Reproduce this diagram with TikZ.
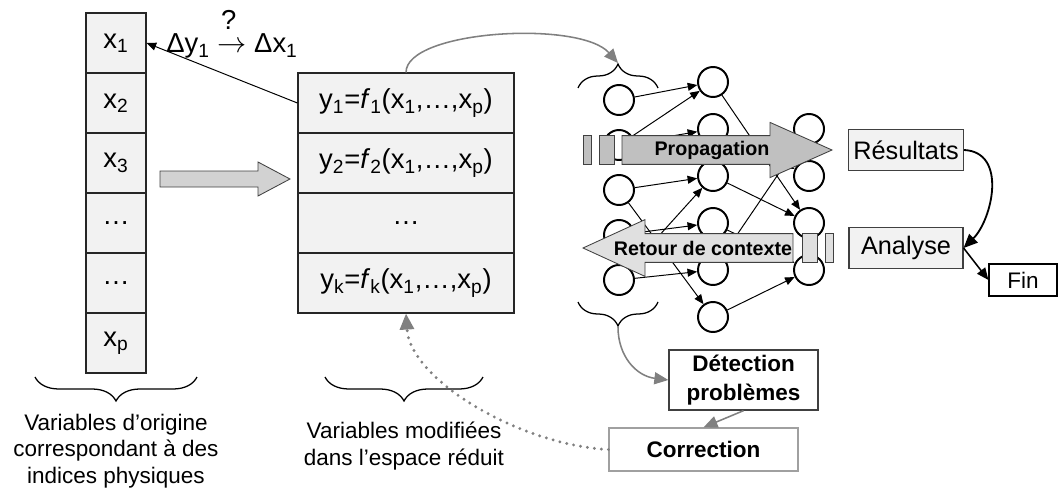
\documentclass[tikz,border=0pt]{standalone}
\usepackage{fontspec}
\setmainfont{Liberation Sans}
\definecolor{cellgray}{RGB}{242,242,242}
\definecolor{propgray}{RGB}{192,192,192}
\definecolor{retgray}{RGB}{224,224,224}
\definecolor{shiftgray}{RGB}{210,210,210}
\definecolor{edgegray}{RGB}{64,64,64}
\definecolor{curvegray}{RGB}{128,128,128}
\definecolor{corrgray}{RGB}{160,160,160}
\usetikzlibrary{arrows.meta,positioning,decorations.pathreplacing}

\begin{document}
\begin{tikzpicture}[
  cell/.style={draw=black!85,line width=0.8pt,fill=cellgray,minimum width=1.5cm,minimum height=1.5cm,inner sep=0pt,font=\fontsize{19.5}{23}\selectfont},
  row/.style={cell,minimum width=5.4cm},
  neuron/.style={circle,draw,line width=1.4pt,fill=white,minimum size=0.75cm,inner sep=0pt},
  link/.style={-{Triangle[length=2.4mm,width=2mm]},line width=0.7pt},
  result/.style={draw=edgegray,line width=0.8pt,fill=cellgray,minimum width=2.85cm,minimum height=1.02cm,font=\fontsize{18}{21}\selectfont},
  blockarrow/.style={draw=edgegray,line width=0.6pt},
  brc/.style={decorate,decoration={brace,amplitude=0.6cm},line width=0.9pt},
  grayarr/.style={curvegray,line width=1.1pt,-{Triangle[length=3.5mm,width=3mm]}},
  caption/.style={align=center,font=\fontsize{16}{18.9}\selectfont},
  arrowtext/.style={font=\fontsize{14}{17}\selectfont\bfseries}]
  \useasboundingbox (0,0) rectangle (26.45,12.2);
  % Original variables
  \node[cell] (x1) at (2.9,11.125) {x\textsubscript{1}};
  \node[cell] (x2) at (2.9,9.625) {x\textsubscript{2}};
  \node[cell] (x3) at (2.9,8.125) {x\textsubscript{3}};
  \node[cell] (x4) at (2.9,6.625) {…};
  \node[cell] (x5) at (2.9,5.125) {…};
  \node[cell] (xp) at (2.9,3.625) {x\textsubscript{p}};
  % Reduced variables
  \node[row] (y1) at (10.15,9.625) {y\textsubscript{1}=\textit{f}\textsubscript{1}(x\textsubscript{1},…,x\textsubscript{p})};
  \node[row] (y2) at (10.15,8.125) {y\textsubscript{2}=\textit{f}\textsubscript{2}(x\textsubscript{1},…,x\textsubscript{p})};
  \node[row] (y3) at (10.15,6.625) {…};
  \node[row] (yk) at (10.15,5.125) {y\textsubscript{k}=\textit{f}\textsubscript{k}(x\textsubscript{1},…,x\textsubscript{p})};
  % Inverse question
  \node[anchor=base,inner sep=0pt,font=\fontsize{19.5}{23}\selectfont] (dlabel) at (5.8,10.875) {Δy\textsubscript{1} $\rightarrow$ Δx\textsubscript{1}};
  \node[anchor=base,inner sep=0pt,font=\fontsize{19.5}{23}\selectfont] (qmark) at (5.72,11.45) {?};
  \draw[link] (y1.west) -- (x1.east);
  % Transformation arrow
  \draw[blockarrow,fill=shiftgray] (4.0,7.925) -- (6.45,7.925) -- (6.45,8.15) -- (7.25,7.725) -- (6.45,7.3) -- (6.45,7.525) -- (4.0,7.525) -- cycle;
  % Network
  \node[neuron] (n1) at (15.475,9.7) {};
  \node[neuron] (n2) at (15.475,8.575) {};
  \node[neuron] (n3) at (15.475,7.45) {};
  \node[neuron] (n4) at (15.475,6.325) {};
  \node[neuron] (n5) at (15.475,5.2) {};
  \node[neuron] (h1) at (17.825,10.15) {};
  \node[neuron] (h2) at (17.825,8.975) {};
  \node[neuron] (h3) at (17.825,7.8) {};
  \node[neuron] (h4) at (17.825,6.625) {};
  \node[neuron] (h5) at (17.825,5.45) {};
  \node[neuron] (h6) at (17.825,4.275) {};
  \node[neuron] (o1) at (20.225,8.975) {};
  \node[neuron] (o2) at (20.225,7.8) {};
  \node[neuron] (o3) at (20.225,6.625) {};
  \node[neuron] (o4) at (20.225,5.45) {};
  \draw[link] (n1) -- (h1);
  \draw[link] (n2) -- (h1);
  \draw[link] (n2) -- (h2);
  \draw[link] (n3) -- (h3);
  \draw[link] (n3) -- (h6);
  \draw[link] (n4) -- (h4);
  \draw[link] (n5) -- (h3);
  \draw[link] (n5) -- (h5);
  \draw[link] (h1) -- (o3);
  \draw[link] (h2) -- (o2);
  \draw[link] (h3) -- (o3);
  \draw[link] (h4) -- (o4);
  \draw[link] (h5) -- (o1);
  \draw[link] (h6) -- (o4);
  % Propagation
  \draw[blockarrow,fill=propgray] (14.575,8.81) rectangle (14.775,8.09);
  \draw[blockarrow,fill=propgray] (14.975,8.81) rectangle (15.35,8.09);
  \draw[blockarrow,fill=propgray] (15.55,8.81) -- (19.25,8.81) -- (19.25,9.14) -- (20.8,8.45) -- (19.25,7.76) -- (19.25,8.09) -- (15.55,8.09) -- cycle;
  \node[arrowtext] (prop) at (17.8,8.45) {Propagation};
  % Retour de contexte
  \draw[blockarrow,fill=retgray] (19.825,6.36) -- (16.125,6.36) -- (16.125,6.71) -- (14.575,6.0) -- (16.125,5.29) -- (16.125,5.64) -- (19.825,5.64) -- cycle;
  \draw[blockarrow,fill=retgray] (20.05,6.36) rectangle (20.425,5.64);
  \draw[blockarrow,fill=retgray] (20.625,6.36) rectangle (20.825,5.64);
  \node[arrowtext] (ret) at (17.575,6.0) {Retour de contexte};
  % Braces
  \draw[brc] (14.45,10.0) -- (16.45,10.0);
  \coordinate (topbr) at (15.45,10.625);
  \draw[brc] (16.45,4.65) -- (14.45,4.65);
  \coordinate (botbr) at (15.45,4.025);
  \draw[brc] (4.925,2.775) -- (0.875,2.775);
  \draw[brc] (12.075,2.775) -- (8.125,2.775);
  % Captions
  \node[caption] (orig) at (2.9,0.925) {Variables d’origine\\correspondant à des\\indices physiques};
  \node[caption] (modif) at (10.1,1.05) {Variables modifiées\\dans l’espace réduit};
  % Outputs
  \node[result] (res) at (22.65,8.45) {Résultats};
  \node[result] (ana) at (22.65,6.0) {Analyse};
  \node[draw,line width=0.8pt,fill=white,minimum width=1.7cm,minimum height=0.8cm,font=\fontsize{16}{19}\selectfont] (fin) at (25.575,5.2) {Fin};
  \draw[line width=1.3pt,-{Triangle[length=3.5mm,width=3mm]}] (res.east) .. controls (25.2,8.4) and (24.8,6.7) .. (ana.east);
  \draw[line width=1.1pt,-{Triangle[length=3mm,width=2.5mm]}] (ana.east) -- (fin.west);
  % Detection and correction
  \node[draw=edgegray,line width=0.9pt,fill=white,minimum width=3.725cm,minimum height=1.5cm,align=center,font=\fontsize{16}{21}\selectfont\bfseries] (det) at (18.5875,2.7) {Détection\\problèmes};
  \node[draw=corrgray,line width=0.9pt,fill=white,minimum width=4.725cm,minimum height=1.075cm,font=\fontsize{16}{19}\selectfont\bfseries] (corr) at (17.5875,0.9625) {Correction};
  \draw[grayarr] (y1.north) .. controls (10.15,11.45) and (14.5,11.7) .. (topbr);
  \draw[grayarr] (botbr) .. controls (15.45,3.3) and (15.9,2.8) .. (det.west);
  \draw[grayarr] (det.south) -- (corr.north);
  \draw[curvegray,line width=2.3pt,line cap=round,dash pattern=on 0pt off 5pt,-{Triangle[length=4mm,width=3.5mm]}] (corr.west) .. controls (13.0,1.075) and (10.25,2.7) .. (yk.south);
\end{tikzpicture}
\end{document}
